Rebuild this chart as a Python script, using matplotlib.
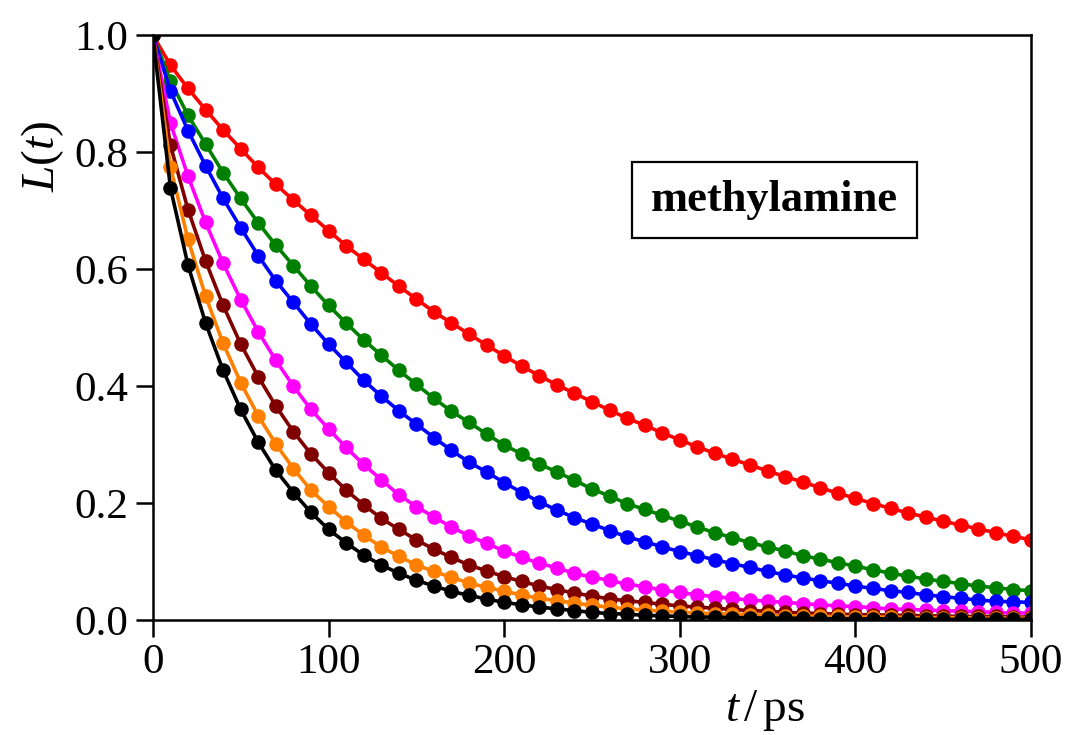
"""Luminescence decay L(t) for methylamine, several curves with fitted lines."""

import matplotlib
matplotlib.use("Agg")
import matplotlib.pyplot as plt
import numpy as np
from matplotlib.patches import Rectangle

plt.rcParams["font.family"] = ["Liberation Serif", "DejaVu Serif"]
plt.rcParams["mathtext.fontset"] = "custom"
plt.rcParams["mathtext.rm"] = "Liberation Serif"
plt.rcParams["mathtext.it"] = "Liberation Serif:italic"

# sampling times (ps)
time_ps = np.arange(0, 510, 10)

red_vals = [1.000,
            .949, .909, .873, .838, .806, .774, .745, .718, .692, .666,
            .640, .617, .594, .571, .549, .527, .508, .489, .470, .452,
            .434, .418, .402, .388, .373, .359, .345, .333, .320, .308,
            .296, .285, .275, .265, .255, .245, .236, .226, .217, .208,
            .199, .191, .183, .176, .169, .162, .156, .149, .143, .137]
green_vals = [1.000,
              .922, .863, .814, .765, .721, .679, .641, .606, .571, .538,
              .508, .479, .453, .427, .403, .379, .357, .338, .318, .299,
              .284, .267, .253, .239, .224, .212, .199, .189, .179, .169,
              .159, .149, .141, .132, .125, .118, .110, .104, .098, .092,
              .086, .080, .075, .070, .066, .062, .058, .055, .052, .050]
blue_vals = [1.000,
             .905, .837, .777, .721, .671, .623, .580, .543, .506, .472,
             .441, .410, .383, .358, .335, .312, .290, .270, .253, .235,
             .218, .202, .188, .175, .164, .153, .142, .134, .125, .117,
             .110, .103, .096, .090, .083, .077, .072, .067, .063, .058,
             .054, .050, .047, .043, .040, .037, .034, .032, .031, .030]
magenta_vals = [1.000,
                .850, .759, .680, .610, .548, .493, .444, .400, .360, .327,
                .295, .266, .240, .214, .194, .176, .159, .144, .131, .118,
                .107, .097, .089, .080, .073, .068, .061, .057, .051, .047,
                .043, .040, .037, .034, .032, .030, .028, .026, .024, .023,
                .021, .019, .018, .017, .016, .015, .014, .013, .012, .012]
brown_vals = [1.000,
              .812, .702, .614, .538, .472, .416, .366, .322, .284, .252,
              .222, .197, .174, .155, .137, .121, .107, .094, .084, .074,
              .066, .058, .052, .046, .041, .036, .033, .030, .027, .024,
              .022, .020, .018, .016, .015, .013, .012, .011, .010, .009,
              .009, .008, .008, .007, .007, .006, .006, .006, .005, .005]
orange_vals = [1.000,
               .775, .651, .554, .473, .406, .349, .301, .259, .222, .194,
               .168, .145, .125, .109, .094, .083, .073, .063, .056, .049,
               .043, .037, .033, .029, .025, .022, .019, .017, .015, .013,
               .012, .011, .010, .009, .008, .007, .007, .006, .006, .005,
               .005, .005, .004, .004, .004, .004, .003, .003, .003, .003]
black_vals = [1.000,
              .739, .607, .508, .427, .360, .304, .256, .218, .184, .155,
              .132, .111, .094, .080, .068, .058, .049, .042, .036, .030,
              .026, .022, .019, .016, .013, .011, .010, .008, .007, .006,
              .005, .005, .004, .004, .003, .003, .003, .002, .002, .002,
              .002, .002, .001, .001, .001, .001, .001, .001, .001, .001]

series = [
    (red_vals, "#ff0000"),
    (green_vals, "#008000"),
    (blue_vals, "#0000ff"),
    (magenta_vals, "#ff00ff"),
    (brown_vals, "#800000"),
    (orange_vals, "#ff8000"),
    (black_vals, "#000000"),
]

fig = plt.figure(figsize=(10.69, 7.35), dpi=100)
ax = fig.add_axes([0.143, 0.1565, 0.8215, 0.7955])

for vals, color in series:
    ax.plot(time_ps, vals, color=color, lw=2.6, marker="o", ms=10.5,
            markeredgewidth=0)

ax.set_xlim(0, 500)
ax.set_ylim(0, 1.0)
ax.set_xticks([0, 100, 200, 300, 400, 500])
ax.set_yticks([0.0, 0.2, 0.4, 0.6, 0.8, 1.0])
ax.set_yticklabels(["0.0", "0.2", "0.4", "0.6", "0.8", "1.0"])
ax.tick_params(axis="both", direction="out", length=12, width=1.8,
               labelsize=31, top=False, right=False)
ax.tick_params(axis="x", pad=5)
ax.tick_params(axis="y", pad=6)
for spine in ax.spines.values():
    spine.set_linewidth(1.8)

fig.text(0.040, 0.787, r"$L(t)$", rotation=90, fontsize=34,
         ha="center", va="center")
fig.text(0.716, 0.033, r"$t\,/\,$ps", fontsize=34, ha="center", va="center")

ax.add_patch(Rectangle((0.5456, 0.653), 0.3244, 0.130, transform=ax.transAxes,
                       fill=False, lw=1.6, edgecolor="black", zorder=5))
ax.text(0.708, 0.718, "methylamine", transform=ax.transAxes, fontsize=32,
        fontweight="bold", ha="center", va="center", zorder=6)

fig.savefig("out.png", dpi=100)
